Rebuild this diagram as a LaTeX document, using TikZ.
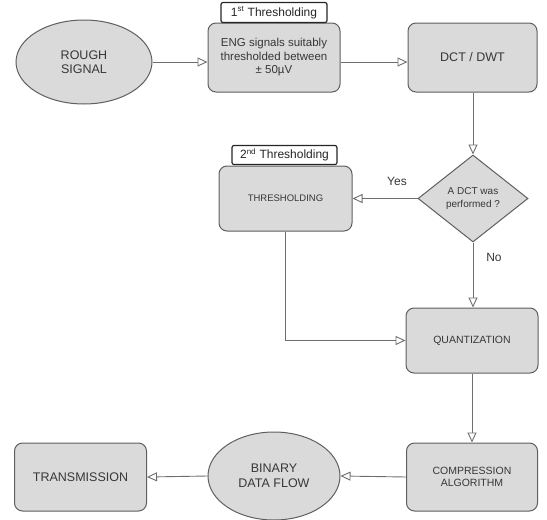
\documentclass[tikz,border=0pt]{standalone}
\usepackage{fontspec}
\setmainfont{Liberation Sans}
\usetikzlibrary{shapes.geometric,arrows.meta}
\definecolor{boxfill}{RGB}{218,218,218}
\definecolor{boxline}{RGB}{95,95,95}
\definecolor{txt}{RGB}{55,55,55}
\definecolor{wire}{RGB}{110,110,110}
\tikzset{
  procbox/.style={draw=boxline, fill=boxfill, line width=1pt, rounded corners=8pt, align=center, text=txt, inner sep=2pt},
  ovalbox/.style={ellipse, draw=boxline, fill=boxfill, line width=1pt, align=center, text=txt, inner sep=0pt},
  decbox/.style={diamond, draw=boxline, fill=boxfill, line width=1pt, align=center, text=txt, inner sep=0pt},
  tagbox/.style={draw=black!85, fill=white, line width=1.2pt, rounded corners=2pt, text=black!85, inner sep=1pt, font=\fontsize{12}{14}\selectfont},
  flow/.style={draw=wire, line width=0.9pt, -{Triangle[open, length=10pt, width=9pt, line width=0.9pt]}},
  lbl/.style={text=txt, font=\fontsize{12}{14}\selectfont}
}
\begin{document}
\begin{tikzpicture}[x=1pt, y=-1pt]
\useasboundingbox (0,0) rectangle (547,520);
\node[ovalbox, minimum width=136pt, minimum height=84pt, font=\fontsize{12.5}{14.5}\selectfont] (rough) at (84,62) {ROUGH\\SIGNAL};
\node[procbox, minimum width=132pt, minimum height=69pt, font=\fontsize{11.5}{13.5}\selectfont] (eng) at (274,57.5) {ENG signals suitably\\thresholded between\\± 50µV};
\node[tagbox, minimum width=106pt, minimum height=20pt] (lab1) at (274,12.5) {1\textsuperscript{st} Thresholding};
\node[procbox, minimum width=129pt, minimum height=69pt, font=\fontsize{12.5}{14.5}\selectfont] (dct) at (472.5,57.5) {DCT / DWT};
\node[decbox, minimum width=110pt, minimum height=87pt, font=\fontsize{10}{12.5}\selectfont] (dia) at (473,198.5) {A DCT was\\performed ?};
\node[procbox, minimum width=133pt, minimum height=65pt, font=\fontsize{9.5}{11.5}\selectfont] (thr) at (285.5,198.5) {THRESHOLDING};
\node[tagbox, minimum width=105pt, minimum height=19pt] (lab2) at (284.5,155) {2\textsuperscript{nd} Thresholding};
\node[procbox, minimum width=132pt, minimum height=65pt, font=\fontsize{10.5}{12.5}\selectfont] (quant) at (472,340.5) {QUANTIZATION};
\node[procbox, minimum width=131pt, minimum height=68pt, font=\fontsize{10.5}{12.5}\selectfont] (comp) at (472,477) {COMPRESSION\\ALGORITHM};
\node[ovalbox, minimum width=132pt, minimum height=88pt, font=\fontsize{12.5}{14.5}\selectfont] (bin) at (274,476) {BINARY\\DATA FLOW};
\node[procbox, minimum width=132pt, minimum height=68pt, font=\fontsize{12.5}{14.5}\selectfont] (trans) at (80.5,477) {TRANSMISSION};
\node[lbl] (yes) at (397,181) {Yes};
\node[lbl] (no) at (494,257) {No};
\draw[flow] (rough.east) -- (rough.east -| eng.west);
\draw[flow] (eng.east |- rough) -- (dct.west |- rough);
\draw[flow] (dct.south -| dia.north) -- (dia.north);
\draw[flow] (dia.west) -- (thr.east);
\draw[flow] (dia.south) -- (dia.south |- quant.north);
\draw[flow] (thr.south) |- (quant.west);
\draw[flow] (quant.south) -- (quant.south |- comp.north);
\draw[flow] (comp.west) -- (bin.east);
\draw[flow] (bin.west) -- (trans.east);
\end{tikzpicture}
\end{document}
